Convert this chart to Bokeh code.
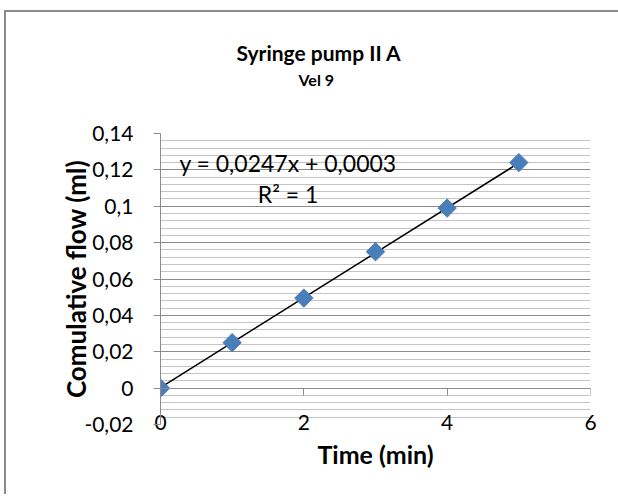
import numpy as np
from bokeh.plotting import figure
from bokeh.models import (Range1d, FixedTicker, LinearAxis, Label, Grid, Title)
from bokeh.embed import file_html
from bokeh.resources import INLINE

# ---- data ----
time_min = [0, 1, 2, 3, 4, 5]
flow_ml = [0.0, 0.025, 0.0495, 0.075, 0.099, 0.124]
trend_slope = 0.0247
trend_intercept = 0.0003
x_ticks = [0, 2, 4, 6]
y_ticks = [-0.02, 0.0, 0.02, 0.04, 0.06, 0.08, 0.1, 0.12, 0.14]
y_tick_labels = ["-0,02", "0", "0,02", "0,04", "0,06", "0,08", "0,1", "0,12", "0,14"]
title_text = "Syringe pump II A"
subtitle_text = "Vel 9"
x_label = "Time (min)"
y_label = "Comulative flow (ml)"
eq_text = "y = 0,0247x + 0,0003"
r2_text = "R² = 1"

FONT = "Lato"
GRID_MAJOR = "#8c8c8c"
GRID_MINOR = "#c4c4c4"
AXIS_COL = "#8c8c8c"

y_minor = [round(v, 3) for v in np.arange(-0.02, 0.1401, 0.004)]
yticker = FixedTicker(ticks=y_ticks, minor_ticks=y_minor)

p = figure(frame_width=430, frame_height=291,
           min_border_left=154, min_border_right=28,
           min_border_top=121, min_border_bottom=70,
           x_range=Range1d(0, 6), y_range=Range1d(-0.02, 0.14),
           output_backend="svg", toolbar_location=None,
           x_axis_type=None, y_axis_type=None)
p.styles = {"margin-left": "4px", "margin-top": "10px",
            "border-left": "2px solid #8a8a8a", "border-top": "2px solid #8a8a8a",
            "border-right": "0px", "border-bottom": "0px"}
p.outline_line_color = None
p.background_fill_color = "white"
p.border_fill_color = "white"

# grid
grid = Grid(dimension=1, ticker=yticker)
grid.grid_line_color = GRID_MAJOR
grid.minor_grid_line_color = GRID_MINOR
p.add_layout(grid)

# y axis
yaxis = LinearAxis(ticker=yticker, axis_label=y_label,
                   major_label_overrides=dict(zip(y_ticks, y_tick_labels)))
yaxis.axis_line_color = AXIS_COL
yaxis.major_tick_line_color = AXIS_COL
yaxis.major_tick_out = 7
yaxis.major_tick_in = 0
yaxis.minor_tick_line_color = None
yaxis.major_label_standoff = 20
yaxis.major_label_text_font = FONT
yaxis.major_label_text_font_size = "21px"
yaxis.major_label_text_color = "black"
yaxis.axis_label_text_font = FONT
yaxis.axis_label_text_font_style = "bold"
yaxis.axis_label_text_font_size = "26px"
yaxis.axis_label_text_color = "black"
yaxis.axis_label_standoff = -11
p.add_layout(yaxis, "left")

# x axis labels along bottom edge
xaxis = LinearAxis(ticker=FixedTicker(ticks=x_ticks), axis_label=x_label)
xaxis.axis_line_color = None
xaxis.major_tick_line_color = None
xaxis.minor_tick_line_color = None
xaxis.major_label_standoff = -16
xaxis.major_label_text_font = FONT
xaxis.major_label_text_font_size = "21px"
xaxis.major_label_text_color = "black"
xaxis.axis_label_text_font = FONT
xaxis.axis_label_text_font_style = "bold"
xaxis.axis_label_text_font_size = "25px"
xaxis.axis_label_text_color = "black"
xaxis.axis_label_standoff = 6
p.add_layout(xaxis, "below")

# x axis line crossing at y = 0
xaxis0 = LinearAxis(ticker=FixedTicker(ticks=x_ticks), fixed_location=0,
                    major_label_overrides={t: "" for t in x_ticks})
xaxis0.axis_line_color = AXIS_COL
xaxis0.major_tick_line_color = AXIS_COL
xaxis0.major_tick_out = 7
xaxis0.major_tick_in = 0
xaxis0.minor_tick_line_color = None
xaxis0.major_label_text_font_size = "1px"
p.add_layout(xaxis0, "below")

# trendline
tx = np.array([min(time_min), max(time_min)], dtype=float)
ty = trend_slope * tx + trend_intercept
p.line(tx, ty, line_color="black", line_width=1.5)

# points
p.scatter(time_min, flow_ml, marker="square", angle=np.pi / 4, size=13,
          fill_color="#4a7ebb", line_color="#4a7ebb")

# equation
p.add_layout(Label(x=1.78, y=0.124, text=eq_text, text_align="center",
                   text_baseline="middle", text_font=FONT, text_font_size="23px",
                   text_color="black"))
p.add_layout(Label(x=1.78, y=0.107, text=r2_text, text_align="center",
                   text_baseline="middle", text_font=FONT, text_font_size="23px",
                   text_color="black"))

# titles: the first one added sits nearest the frame (first is an invisible spacer)
p.add_layout(Title(text=".", text_font_size="1px", text_color="white",
                   standoff=42), "above")
p.add_layout(Title(text=subtitle_text, align="left", offset=138, text_font=FONT,
                   text_font_style="bold", text_font_size="16px",
                   text_color="black", standoff=0), "above")
p.add_layout(Title(text=title_text, align="left", offset=76, text_font=FONT,
                   text_font_style="bold", text_font_size="21px",
                   text_color="black", standoff=6), "above")

open("out.html", "w").write(file_html(p, INLINE))
